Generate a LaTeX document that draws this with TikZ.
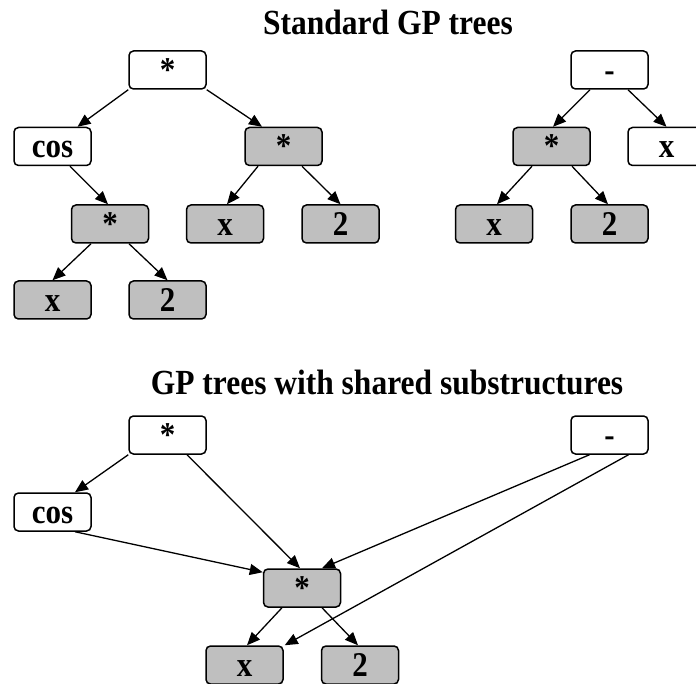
\documentclass[tikz,border=0pt]{standalone}
\usepackage{fontspec}
\usepackage{graphicx}
\setmainfont{Liberation Serif}
\usetikzlibrary{arrows.meta}

% slightly tall lettering
\newcommand\tall[1]{\scalebox{1}[1.12]{#1}}

\tikzset{
  gpnode/.style={draw=black, line width=1.5pt, rounded corners=4.5pt,
    minimum width=77pt, minimum height=38pt, inner sep=0pt,
    text height=23pt, text depth=0pt,
    font=\fontsize{31}{36}\selectfont\bfseries},
  opnode/.style={gpnode, fill=white},
  subnode/.style={gpnode, fill=black!25},
  edge/.style={line width=1.3pt, -{Triangle[length=13pt,width=11pt]}},
  heading/.style={anchor=base, inner sep=0pt,
    font=\fontsize{31.5}{36}\selectfont\bfseries}
}

\begin{document}
\begin{tikzpicture}[x=1pt, y=-1pt]
\useasboundingbox (0,0) rectangle (696,684);

% ---- headings ----
\node[heading] (h1) at (388,35) {\tall{Standard GP trees}};
\node[heading] (h2) at (387,395) {\tall{GP trees with shared substructures}};

% ---- standard tree: cos(x*2) * (x*2) ----
\node[opnode]  (r1) at (167.5,70)  {\tall{*}};
\node[opnode]  (c1) at (52.5,146.5) {\tall{cos}};
\node[subnode] (m1) at (283.5,146.5) {\tall{*}};
\node[subnode] (a1) at (110,224)   {\tall{*}};
\node[subnode] (x2) at (225,224)   {\tall{x}};
\node[subnode] (t2) at (340.5,224) {\tall{2}};
\node[subnode] (xa) at (52.5,300)  {\tall{x}};
\node[subnode] (ta) at (167.5,300) {\tall{2}};

\draw[edge] (r1.south west) -- ([xshift=25pt]c1.north);
\draw[edge] (r1.south east) -- ([xshift=-21.5pt]m1.north);
\draw[edge] ([xshift=17.5pt]c1.south) -- ([xshift=-2pt]a1.north);
\draw[edge] ([xshift=-19pt]a1.south) -- (xa.north);
\draw[edge] ([xshift=19pt]a1.south) -- (ta.north);
\draw[edge] ([xshift=-25.5pt]m1.south) -- ([xshift=2pt]x2.north);
\draw[edge] ([xshift=18.5pt]m1.south) -- (t2.north);

% ---- standard tree: (x*2) - x ----
\node[opnode]  (s1) at (609.5,70)   {\tall{-}};
\node[subnode] (s2) at (551.5,146.5) {\tall{*}};
\node[opnode]  (s3) at (666.5,146.5) {\tall{x}};
\node[subnode] (s4) at (494,224)    {\tall{x}};
\node[subnode] (s5) at (609.5,224)  {\tall{2}};

\draw[edge] ([xshift=-19.5pt]s1.south) -- ([xshift=1.5pt]s2.north);
\draw[edge] ([xshift=18.5pt]s1.south) -- (s3.north);
\draw[edge] ([xshift=-19.5pt]s2.south) -- ([xshift=3pt]s4.north);
\draw[edge] ([xshift=20.5pt]s2.south) -- ([xshift=-1.5pt]s5.north);

% ---- shared substructure graph ----
\node[opnode]  (b1) at (167.5,435) {\tall{*}};
\node[opnode]  (b2) at (52.5,512)  {\tall{cos}};
\node[subnode] (b3) at (302,588)   {\tall{*}};
\node[subnode] (b4) at (244.5,665) {\tall{x}};
\node[subnode] (b5) at (360,665)   {\tall{2}};
\node[opnode]  (b6) at (609.5,435) {\tall{-}};

\draw[edge] (b1.south west) -- ([xshift=22.5pt]b2.north);
\draw[edge] ([xshift=19.5pt]b1.south) -- ([xshift=-2pt]b3.north);
\draw[edge] ([xshift=22.5pt]b2.south) -- ([yshift=-4pt]b3.north west);
\draw[edge] ([xshift=-20pt]b6.south) -- ([xshift=20pt]b3.north);
\draw[edge] ([xshift=19pt]b6.south) -- ([xshift=1pt]b4.north east);
\draw[edge] ([xshift=-20pt]b3.south) -- ([xshift=2.5pt]b4.north);
\draw[edge] ([xshift=20pt]b3.south) -- ([xshift=-2pt]b5.north);
\end{tikzpicture}
\end{document}
